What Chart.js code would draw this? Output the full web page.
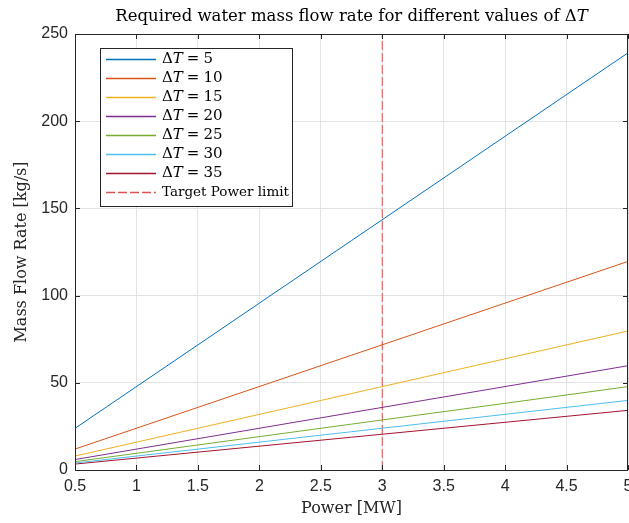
<!DOCTYPE html>
<html>
<head>
<meta charset="utf-8">
<script src="https://cdn.jsdelivr.net/npm/chart.js@4"></script>
<style>
  html, body { margin: 0; padding: 0; background: #fff; }
  #wrap { width: 629px; height: 523px; }
</style>
</head>
<body>
<div id="wrap"><canvas id="c" width="629" height="523"></canvas></div>
<script>
// values (straight lines, endpoints at 0.5 and 5 MW)
const power = [0.5, 5];
const deltaT = [5, 10, 15, 20, 25, 30, 35];
const flowDT5 = [23.9, 239.2];
const flowDT10 = [12.0, 119.6];
const flowDT15 = [8.0, 79.7];
const flowDT20 = [6.0, 59.8];
const flowDT25 = [4.8, 47.8];
const flowDT30 = [4.0, 39.9];
const flowDT35 = [3.4, 34.2];
const targetX = [3, 3];
const targetY = [0, 250];
const xTicks = [0.5, 1, 1.5, 2, 2.5, 3, 3.5, 4, 4.5, 5];
const yTicks = [0, 50, 100, 150, 200, 250];

const colors = ['#0072BD', '#D95319', '#EDB120', '#7E2F8E', '#77AC30', '#4DBEEE', '#A2142F'];
const flows = [flowDT5, flowDT10, flowDT15, flowDT20, flowDT25, flowDT30, flowDT35];
const serif = '"DejaVu Serif", "Liberation Serif", serif';
const sans = '"Liberation Sans", Arial, sans-serif';
const axisColor = '#262626';
const dashColor = 'rgba(214, 40, 40, 0.8)';

const datasets = flows.map((f, i) => ({
  label: 'dT = ' + deltaT[i],
  data: power.map((p, j) => ({ x: p, y: f[j] })),
  borderColor: colors[i],
  borderWidth: 1,
  pointRadius: 0,
  fill: false,
}));
datasets.push({
  label: 'Target Power limit',
  data: targetX.map((x, j) => ({ x: x, y: targetY[j] })),
  borderColor: dashColor,
  borderWidth: 1,
  borderDash: [9, 3],
  pointRadius: 0,
  fill: false,
});

// box, inward ticks, title, axis labels, legend
const matlabLook = {
  id: 'matlabLook',
  afterDraw(chart) {
    const ctx = chart.ctx;
    const a = chart.chartArea;
    const xs = chart.scales.x, ys = chart.scales.y;
    ctx.save();
    ctx.strokeStyle = axisColor;
    ctx.lineWidth = 1;
    ctx.strokeRect(Math.round(a.left) + 0.5, Math.round(a.top) + 0.5,
      Math.round(a.right - a.left) - 1, Math.round(a.bottom - a.top));
    ctx.beginPath();
    xTicks.forEach(v => {
      const px = Math.round(xs.getPixelForValue(v)) + 0.5;
      ctx.moveTo(px, a.bottom); ctx.lineTo(px, a.bottom - 5);
      ctx.moveTo(px, a.top); ctx.lineTo(px, a.top + 5);
    });
    yTicks.forEach(v => {
      const py = Math.round(ys.getPixelForValue(v)) + 0.5;
      ctx.moveTo(a.left, py); ctx.lineTo(a.left + 5, py);
      ctx.moveTo(a.right, py); ctx.lineTo(a.right - 5, py);
    });
    ctx.stroke();

    // title
    ctx.fillStyle = '#000';
    ctx.textBaseline = 'middle';
    const t1 = 'Required water mass flow rate for different values of \u0394';
    ctx.font = '16.5px ' + serif;
    const w1 = ctx.measureText(t1).width;
    ctx.font = 'italic 16.5px ' + serif;
    const w2 = ctx.measureText('T').width;
    const cx = (a.left + a.right) / 2;
    const tx = cx - (w1 + w2) / 2;
    ctx.textAlign = 'left';
    ctx.font = '16.5px ' + serif;
    ctx.fillText(t1, tx, 17);
    ctx.font = 'italic 16.5px ' + serif;
    ctx.fillText('T', tx + w1, 17);

    // axis titles
    ctx.fillStyle = axisColor;
    ctx.font = '16px ' + serif;
    ctx.textAlign = 'center';
    ctx.fillText('Power [MW]', cx, 509);
    ctx.save();
    ctx.translate(22, (a.top + a.bottom) / 2);
    ctx.rotate(-Math.PI / 2);
    ctx.fillText('Mass Flow Rate [kg/s]', 0, 0);
    ctx.restore();

    // legend
    const lx = 100, ly = 48, lw = 192, lh = 158;
    ctx.fillStyle = '#fff';
    ctx.fillRect(lx, ly, lw, lh);
    ctx.strokeStyle = axisColor;
    ctx.lineWidth = 1;
    ctx.strokeRect(lx + 0.5, ly + 0.5, lw, lh);
    chart.data.datasets.forEach((ds, i) => {
      const y = Math.round(ly + 11 + i * 19) + 0.5;
      ctx.strokeStyle = ds.borderColor;
      ctx.lineWidth = 1.3;
      ctx.setLineDash(ds.borderDash || []);
      ctx.beginPath();
      ctx.moveTo(lx + 6, y); ctx.lineTo(lx + 56, y);
      ctx.stroke();
      ctx.setLineDash([]);
      ctx.fillStyle = '#000';
      ctx.textAlign = 'left';
      let x = lx + 62;
      if (i < deltaT.length) {
        ctx.font = '15px ' + serif;
        ctx.fillText('\u0394', x, y);
        x += ctx.measureText('\u0394').width;
        ctx.font = 'italic 15px ' + serif;
        ctx.fillText('T', x, y);
        x += ctx.measureText('T').width + 4;
        ctx.font = '15px ' + serif;
        ctx.fillText('=', x, y);
        x += ctx.measureText('=').width + 4;
        ctx.fillText(String(deltaT[i]), x, y);
      } else {
        ctx.font = '13.5px ' + serif;
        ctx.fillText(ds.label, x, y);
      }
    });
    ctx.restore();
  }
};

new Chart(document.getElementById('c'), {
  type: 'line',
  data: { datasets: datasets },
  options: {
    responsive: false,
    animation: false,
    layout: { padding: { top: 34, right: 1, left: 0, bottom: 0 } },
    plugins: {
      legend: { display: false },
      tooltip: { enabled: false },
    },
    scales: {
      x: {
        type: 'linear',
        min: 0.5,
        max: 5,
        afterBuildTicks: (s) => { s.ticks = xTicks.map(v => ({ value: v })); },
        afterFit: (s) => { s.height = 53; s.paddingLeft = 0; s.paddingRight = 0; },
        grid: { color: '#e3e3e3', drawTicks: false },
        border: { display: false },
        ticks: {
          color: axisColor,
          font: { family: sans, size: 16 },
          padding: 7,
          maxRotation: 0,
          callback: (v) => String(v),
        },
      },
      y: {
        type: 'linear',
        min: 0,
        max: 250,
        afterBuildTicks: (s) => { s.ticks = yTicks.map(v => ({ value: v })); },
        afterFit: (s) => { s.width = 75; s.paddingTop = 0; s.paddingBottom = 0; },
        grid: { color: '#e3e3e3', drawTicks: false },
        border: { display: false },
        ticks: {
          color: axisColor,
          font: { family: sans, size: 16 },
          padding: 7,
          callback: (v) => String(v),
        },
      },
    },
  },
  plugins: [matlabLook],
});
</script>
</body>
</html>
